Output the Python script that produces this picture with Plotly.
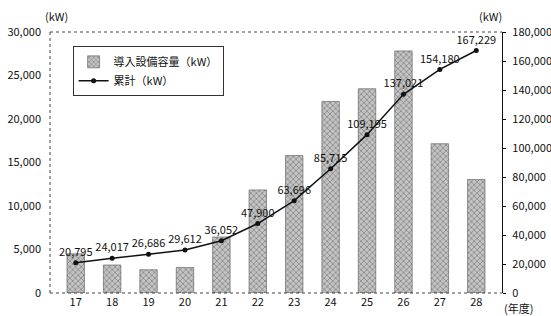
import plotly.graph_objects as go

years = ["17", "18", "19", "20", "21", "22", "23", "24", "25", "26", "27", "28"]
annual_kw = [4500, 3222, 2669, 2926, 6440, 11848, 15796, 22019, 23480, 27826, 17159, 13049]
cumulative_kw = [20795, 24017, 26686, 29612, 36052, 47900, 63696, 85715, 109195, 137021, 154180, 167229]
cum_labels = ["20,795", "24,017", "26,686", "29,612", "36,052", "47,900", "63,696", "85,715",
              "109,195", "137,021", "154,180", "167,229"]
left_ticks = [0, 5000, 10000, 15000, 20000, 25000, 30000]
right_ticks = [0, 20000, 40000, 60000, 80000, 100000, 120000, 140000, 160000, 180000]

FONT = "Noto Sans CJK JP"

fig = go.Figure()
fig.add_trace(go.Bar(
    x=years, y=annual_kw, name="導入設備容量（kW）",
    marker=dict(color="#b8b8b8", line=dict(color="#555", width=0.6),
                pattern=dict(shape="x", fgcolor="#444", bgcolor="#c4c4c4", size=4, solidity=0.35)),
    yaxis="y",
))
fig.add_trace(go.Scatter(
    x=years, y=cumulative_kw, name="累計（kW）", mode="lines+markers+text",
    line=dict(color="#111", width=1.5), marker=dict(color="#111", size=5),
    text=cum_labels, textposition="top center",
    textfont=dict(family=FONT, size=11, color="#111"),
    yaxis="y2", cliponaxis=False,
))

fig.update_layout(
    width=551, height=316,
    margin=dict(l=50, r=49, t=32, b=23),
    paper_bgcolor="white", plot_bgcolor="white",
    font=dict(family=FONT, size=11, color="#111"),
    bargap=0.52,
    showlegend=True,
    legend=dict(x=0.05, y=0.945, xanchor="left", yanchor="top",
                bgcolor="white", bordercolor="#333", borderwidth=1,
                font=dict(family=FONT, size=11), itemwidth=30, tracegroupgap=0),
    xaxis=dict(type="category", showgrid=False, showline=False, ticks="", automargin=False,
               tickfont=dict(family=FONT, size=11), ticklabelstandoff=1),
    yaxis=dict(range=[0, 30000], tickvals=left_ticks, tickformat=",", showgrid=False,
               showline=False, ticks="", zeroline=False, ticklabelstandoff=8, automargin=False,
               tickfont=dict(family=FONT, size=11)),
    yaxis2=dict(range=[0, 180000], tickvals=right_ticks, tickformat=",", overlaying="y",
                side="right", showgrid=False, showline=True, linecolor="#111", linewidth=1.2,
                ticks="outside", ticklen=3, tickcolor="#111", zeroline=False, ticklabelstandoff=4,
                automargin=False, tickfont=dict(family=FONT, size=11)),
    shapes=[
        dict(type="line", xref="paper", yref="paper", x0=0, x1=1, y0=1, y1=1,
             line=dict(color="#444", width=1, dash="dot")),
        dict(type="line", xref="paper", yref="paper", x0=0, x1=0, y0=0, y1=1,
             line=dict(color="#444", width=1, dash="dot")),
        dict(type="line", xref="paper", yref="paper", x0=0, x1=1, y0=0, y1=0,
             line=dict(color="#444", width=1, dash="dot")),
    ],
    annotations=[
        dict(text="(kW)", xref="paper", yref="paper", x=0.0, y=1, xshift=6, yshift=16,
             showarrow=False, font=dict(family=FONT, size=11), xanchor="center", yanchor="middle"),
        dict(text="(kW)", xref="paper", yref="paper", x=1.0, y=1, xshift=-12, yshift=16,
             showarrow=False, font=dict(family=FONT, size=11), xanchor="center", yanchor="middle"),
        dict(text="(年度)", xref="paper", yref="paper", x=1.0, y=0, xshift=0, yshift=-15,
             showarrow=False, font=dict(family=FONT, size=11), xanchor="left", yanchor="middle"),
    ],
)

fig.write_html("out.html", config={"displayModeBar": False},
               post_script="document.body.style.margin='0';")
